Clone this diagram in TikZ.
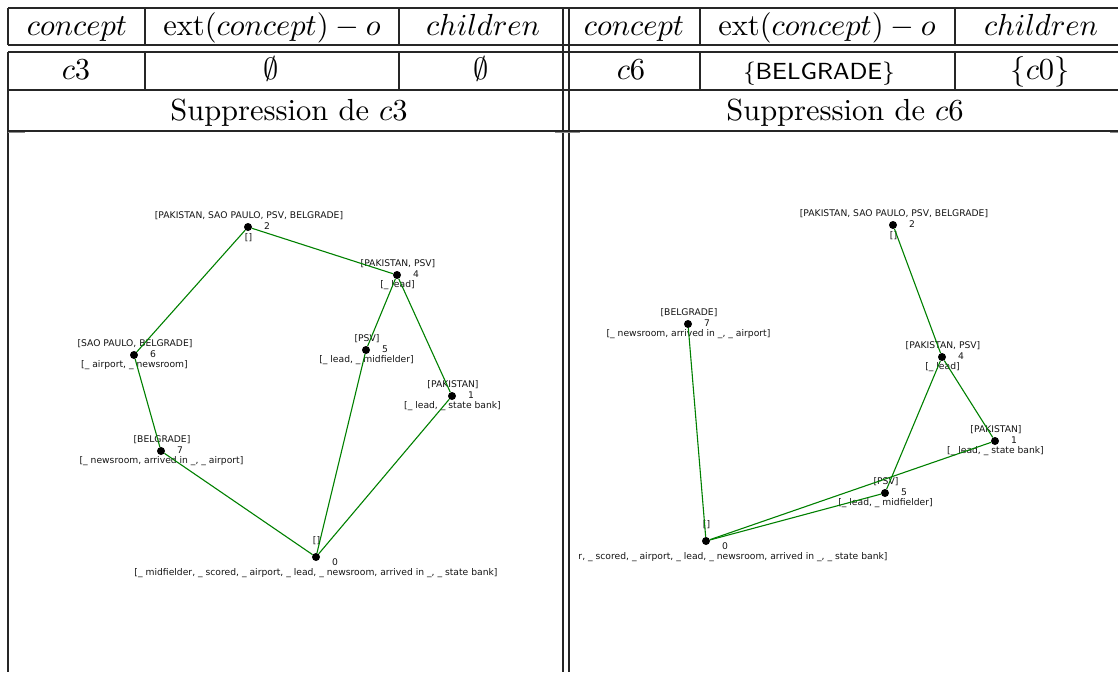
\documentclass[tikz,border=0pt]{standalone}
\usepackage{fontspec}
\usepackage{graphicx}
\newfontfamily\graphfont{DejaVu Sans}
\definecolor{edgegreen}{HTML}{008000}
\newcommand\tabtext[1]{\scalebox{3.05}{#1}}
\tikzset{
  tabline/.style={line width=1.1pt, draw=black!85},
  stub/.style={line width=1.4pt, draw=black!45},
  cell/.style={anchor=base, inner sep=0pt},
  dot/.style={circle, fill=black, inner sep=0pt, minimum size=8pt},
  edge/.style={draw=edgegreen, line width=1.1pt},
  lab/.style={font=\graphfont\fontsize{9.2}{11}\selectfont, inner sep=0pt, text=black!92},
}
% a concept node: dot, extent above, number to the right, intent below
\newcommand\conceptnode[6]{%
  \node[dot] (#1) at (#2,#3) {};
  \node[lab] (#1-ext) at ([shift={(1,-11.5)}]#1.center) {#4};
  \node[lab] (#1-num) at ([shift={(19,-0.5)}]#1.center) {#5};
  \node[lab] (#1-int) at ([shift={(0.5,10.5)}]#1.center) {#6};
}
% the bottom concept, with its labels spread a little wider
\newcommand\bottomnode[5]{%
  \node[dot] (#1) at (#2,#3) {};
  \node[lab] (#1-ext) at ([shift={(0.5,-16.5)}]#1.center) {#4};
  \node[lab] (#1-num) at ([shift={(19,5)}]#1.center) {0};
  \node[lab] (#1-int) at ([shift={(0,16)}]#1.center) {#5};
}
\begin{document}
\begin{tikzpicture}[x=1pt,y=-1pt]
\useasboundingbox (0,0) rectangle (1118,672);

% ---- table rules ----
\foreach \yy in {8,45,52,90,131}
  \draw[tabline] (8,\yy) -- (1118,\yy);
\draw[tabline] (8,8) -- (8,45);
\draw[tabline] (8,52) -- (8,672);
\draw[tabline] (563,8) -- (563,672);
\draw[tabline] (569,8) -- (569,672);
\foreach \xx in {145,399,700,955}{
  \draw[tabline] (\xx,8) -- (\xx,45);
  \draw[tabline] (\xx,52) -- (\xx,90);
}
% small frame marks at the top of the two graph panels
\draw[stub] (8,132.5) -- (25,132.5);
\draw[stub] (555,132.5) -- (580,132.5);
\draw[stub] (1110,132.5) -- (1118,132.5);

% ---- table text ----
\node[cell] (hl1) at (77,35) {\tabtext{$concept$}};
\node[cell] (hl2) at (272,35) {\tabtext{$\mathrm{ext}(concept) - o$}};
\node[cell] (hl3) at (483,35) {\tabtext{$children$}};
\node[cell] (hr1) at (634,35) {\tabtext{$concept$}};
\node[cell] (hr2) at (827,35) {\tabtext{$\mathrm{ext}(concept) - o$}};
\node[cell] (hr3) at (1041,35) {\tabtext{$children$}};

\node[cell] (rl1) at (76,79) {\tabtext{$c3$}};
\node[cell] (rl2) at (271,79) {\tabtext{$\emptyset$}};
\node[cell] (rl3) at (481,79) {\tabtext{$\emptyset$}};
\node[cell] (rr1) at (631,79) {\tabtext{$c6$}};
\node[cell] (rr2) at (819,79) {\tabtext{\sffamily\fontsize{7.64}{9}\selectfont\{BELGRADE\}}};
\node[cell] (rr3) at (1040,79) {\tabtext{$\{c0\}$}};

\node[cell] (sl) at (289,120) {\tabtext{Suppression de $c3$}};
\node[cell] (sr) at (845,120) {\tabtext{Suppression de $c6$}};

% ---- left lattice ----
\conceptnode{L2}{248}{227}{[PAKISTAN, SAO PAULO, PSV, BELGRADE]}{2}{[]}
\conceptnode{L4}{397}{275}{[PAKISTAN, PSV]}{4}{[\_ lead]}
\conceptnode{L6}{134}{355}{[SAO PAULO, BELGRADE]}{6}{[\_ airport, \_ newsroom]}
\conceptnode{L5}{366}{350}{[PSV]}{5}{[\_ lead, \_ midfielder]}
\conceptnode{L1}{452}{396}{[PAKISTAN]}{1}{[\_ lead, \_ state bank]}
\conceptnode{L7}{161}{451}{[BELGRADE]}{7}{[\_ newsroom, arrived in \_, \_ airport]}
\bottomnode{L0}{316}{557}{[]}{[\_ midfielder, \_ scored, \_ airport, \_ lead, \_ newsroom, arrived in \_, \_ state bank]}
\draw[edge] (L2) -- (L6);
\draw[edge] (L2) -- (L4);
\draw[edge] (L4) -- (L5);
\draw[edge] (L4) -- (L1);
\draw[edge] (L6) -- (L7);
\draw[edge] (L7) -- (L0);
\draw[edge] (L5) -- (L0);
\draw[edge] (L1) -- (L0);

% ---- right lattice ----
\begin{scope}
\clip (578,132) rectangle (1118,672);
\conceptnode{R2}{893}{225}{[PAKISTAN, SAO PAULO, PSV, BELGRADE]}{2}{[]}
\conceptnode{R4}{942}{357}{[PAKISTAN, PSV]}{4}{[\_ lead]}
\conceptnode{R1}{995}{441}{[PAKISTAN]}{1}{[\_ lead, \_ state bank]}
\conceptnode{R7}{688}{324}{[BELGRADE]}{7}{[\_ newsroom, arrived in \_, \_ airport]}
\conceptnode{R5}{885}{493}{[PSV]}{5}{[\_ lead, \_ midfielder]}
\bottomnode{R0}{706}{541}{[]}{[\_ midfielder, \_ scored, \_ airport, \_ lead, \_ newsroom, arrived in \_, \_ state bank]}
\draw[edge] (R2) -- (R4);
\draw[edge] (R4) -- (R5);
\draw[edge] (R4) -- (R1);
\draw[edge] (R1) -- (R0);
\draw[edge] (R5) -- (R0);
\draw[edge] (R7) -- (R0);
\end{scope}
\end{tikzpicture}
\end{document}
